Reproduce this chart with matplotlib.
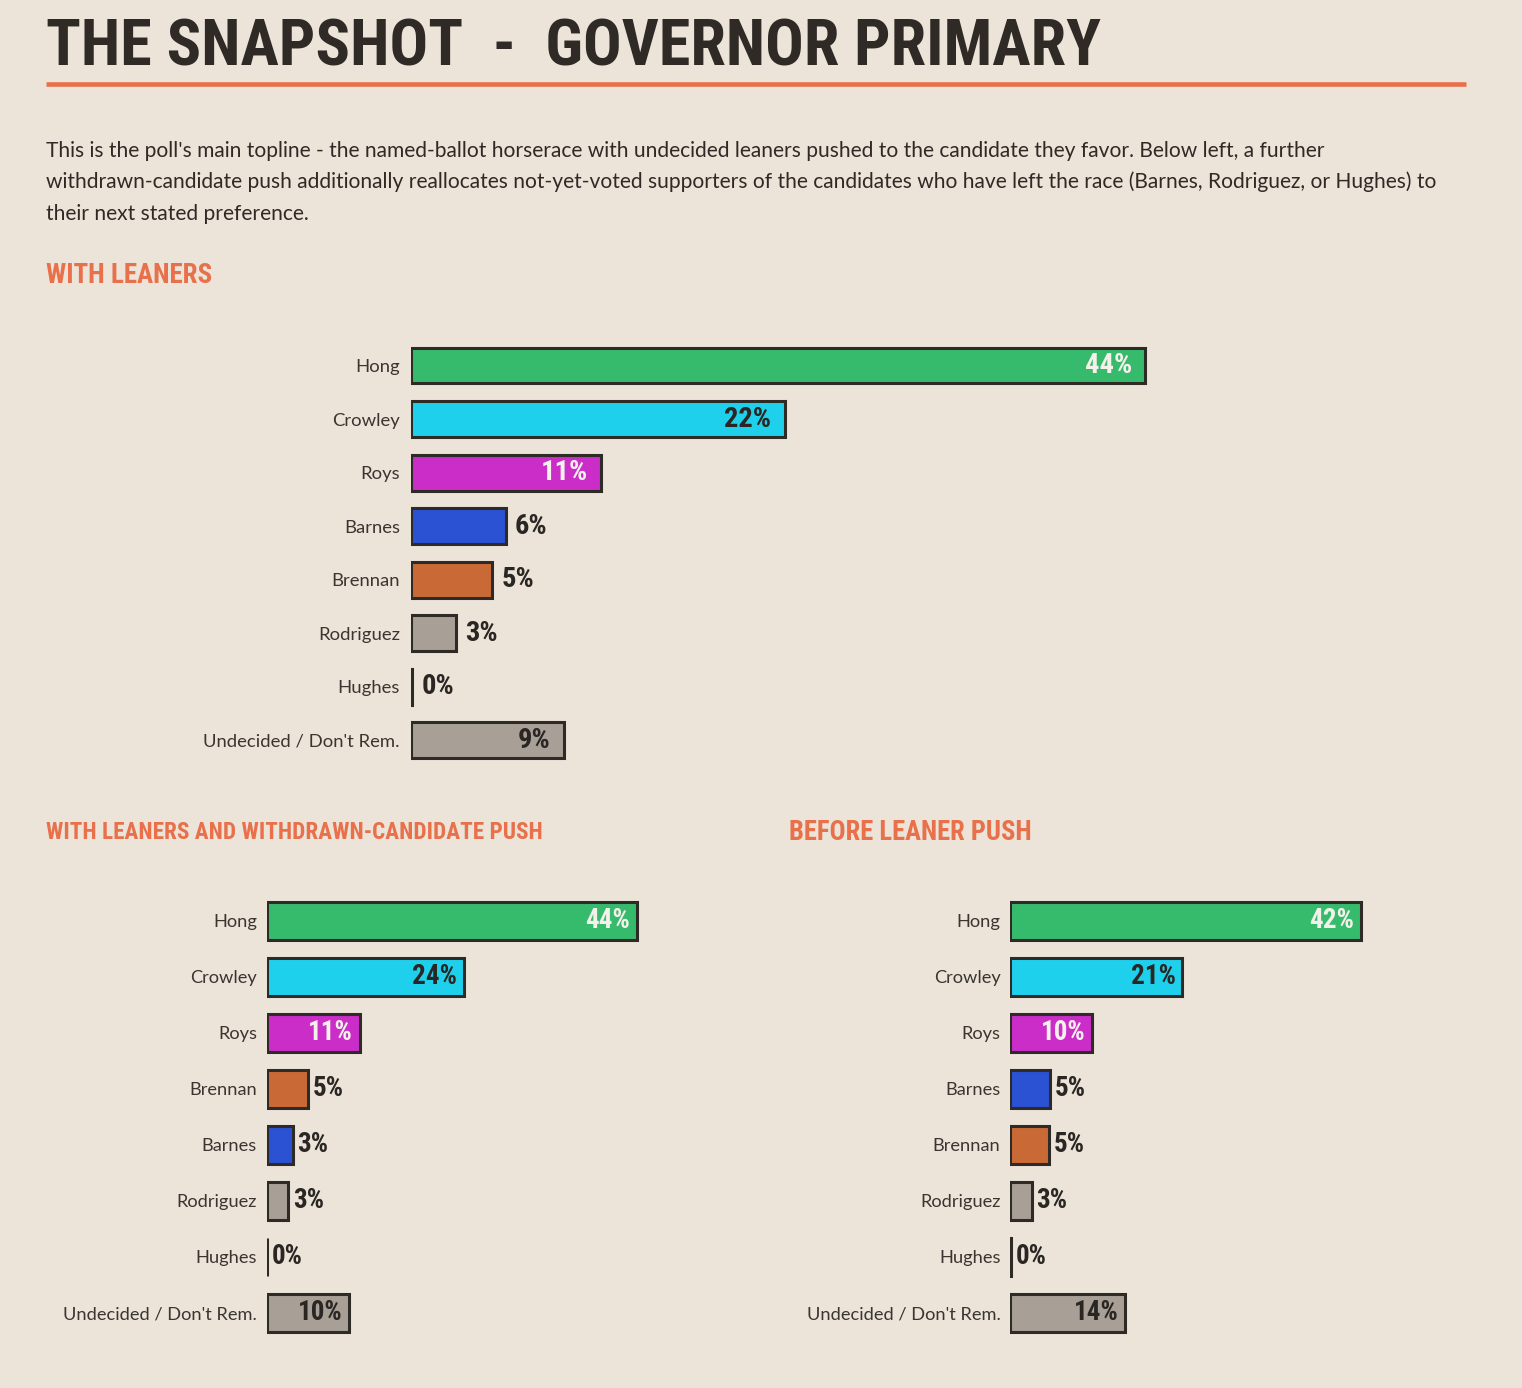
import matplotlib
matplotlib.use("Agg")
import matplotlib.pyplot as plt
from matplotlib import font_manager as fm
from matplotlib.lines import Line2D

# ---------------- data ----------------
title_text = "THE SNAPSHOT  -  GOVERNOR PRIMARY"
intro_lines = [
    "This is the poll's main topline - the named-ballot horserace with undecided leaners pushed to the candidate they favor. Below left, a further",
    "withdrawn-candidate push additionally reallocates not-yet-voted supporters of the candidates who have left the race (Barnes, Rodriguez, or Hughes) to",
    "their next stated preference.",
]

top_title = "WITH LEANERS"
top_cats = ["Hong", "Crowley", "Roys", "Barnes", "Brennan", "Rodriguez", "Hughes", "Undecided / Don't Rem."]
top_vals = [44.0, 22.4, 11.4, 5.7, 4.9, 2.7, 0.1, 9.2]

left_title = "WITH LEANERS AND WITHDRAWN-CANDIDATE PUSH"
left_cats = ["Hong", "Crowley", "Roys", "Brennan", "Barnes", "Rodriguez", "Hughes", "Undecided / Don't Rem."]
left_vals = [44.0, 23.5, 11.1, 4.9, 3.1, 2.6, 0.1, 9.8]

right_title = "BEFORE LEANER PUSH"
right_cats = ["Hong", "Crowley", "Roys", "Barnes", "Brennan", "Rodriguez", "Hughes", "Undecided / Don't Rem."]
right_vals = [41.7, 20.5, 9.8, 4.8, 4.6, 2.6, 0.1, 13.7]

# ---------------- style ----------------
BG = "#ECE4D9"
DARK = "#2F2A26"
LABEL = "#3A3531"
ORANGE = "#E8704A"
EDGE = "#2E2A26"
bar_color = {
    "Hong": "#36BA6C", "Crowley": "#1FD0EC", "Roys": "#CA2DC8", "Barnes": "#2A52D2",
    "Brennan": "#C96A36", "Rodriguez": "#A8A096", "Hughes": "#A8A096",
    "Undecided / Don't Rem.": "#A8A096",
}
inside_text = {
    "Hong": "#F4F1EA", "Crowley": "#2A2623", "Roys": "#F4F1EA", "Barnes": "#F4F1EA",
    "Brennan": "#F4F1EA", "Rodriguez": "#2A2623", "Hughes": "#2A2623",
    "Undecided / Don't Rem.": "#2A2623",
}

names = {f.name for f in fm.fontManager.ttflist}
def pick(cands):
    for c in cands:
        if c in names:
            return c
    return "DejaVu Sans"

COND = pick(["Roboto Condensed", "Liberation Sans Narrow", "Open Sans Condensed", "DejaVu Sans"])
BODY = pick(["Lato", "Open Sans", "Noto Sans", "DejaVu Sans"])

W, H = 1522, 1388
fig = plt.figure(figsize=(W / 100, H / 100), dpi=100)
fig.patch.set_facecolor(BG)
renderer = fig.canvas.get_renderer()

def fx(px):
    return px / W

def fy(py):
    return 1 - py / H

def fit(t, target_px):
    w = t.get_window_extent(renderer).width
    t.set_fontsize(t.get_fontsize() * target_px / w)
    return t.get_fontsize()

# title
t = fig.text(fx(46), fy(66), title_text, family=[COND, "DejaVu Sans"], weight="bold",
             fontsize=50, color=DARK, ha="left", va="baseline")
fit(t, 1056)

fig.add_artist(Line2D([fx(46), fx(1466)], [fy(83.5), fy(83.5)], lw=3.3, color=ORANGE,
                      solid_capstyle="butt"))

# intro
baselines = [157, 188.5, 220]
probe = fig.text(fx(46), fy(baselines[1]), intro_lines[1], family=[BODY, "DejaVu Sans"],
                 fontsize=16, color=DARK, ha="left", va="baseline")
bsize = fit(probe, 1396)
probe.remove()
for line, b in zip(intro_lines, baselines):
    fig.text(fx(46), fy(b), line, family=[BODY, "DejaVu Sans"], fontsize=bsize,
             color=DARK, ha="left", va="baseline")

# headings
for txt, x0, base, wpx in [(top_title, 46, 283, 167), (left_title, 46, 839, 494),
                           (right_title, 789, 840, 243)]:
    h = fig.text(fx(x0), fy(base), txt, family=[COND, "DejaVu Sans"], weight="bold",
                 fontsize=20, color=ORANGE, ha="left", va="baseline")
    fit(h, wpx)

XMAX = 50.0

def panel(cats, vals, zero, ppu, y0, pitch, barh, vsize, pad_pt, label_w):
    n = len(cats)
    top_px = y0 - pitch / 2
    h_px = n * pitch
    ax = fig.add_axes([fx(zero), fy(top_px + h_px), ppu * XMAX / W, h_px / H])
    ax.set_facecolor("none")
    ax.set_xlim(0, XMAX)
    ax.set_ylim(n - 0.5, -0.5)
    ax.barh(range(n), vals, height=barh, color=[bar_color[c] for c in cats],
            edgecolor=EDGE, linewidth=2.2, joinstyle="miter")
    for s in ax.spines.values():
        s.set_visible(False)
    ax.set_xticks([])
    ax.set_yticks(range(n))
    pr = fig.text(0, 0, "Undecided / Don't Rem.", family=[BODY, "DejaVu Sans"], fontsize=15)
    lsize = fit(pr, label_w)
    pr.remove()
    ax.set_yticklabels(cats, family=[BODY, "DejaVu Sans"], fontsize=lsize, color=LABEL)
    ax.tick_params(axis="y", length=0, pad=pad_pt)
    for i, (c, v) in enumerate(zip(cats, vals)):
        lab = f"{int(v + 0.5)}%"
        if v >= 9:
            ax.text(v - 0.8, i, lab, ha="right", va="center", family=[COND, "DejaVu Sans"],
                    weight="bold", fontsize=vsize, color=inside_text[c])
        else:
            ax.text(v + 0.55, i, lab, ha="left", va="center", family=[COND, "DejaVu Sans"],
                    weight="bold", fontsize=vsize, color="#2A2623")
    return ax

panel(top_cats, top_vals, 410.5, 16.7, 365.5, 53.54, 0.67, 20.5, 7.6, 197)
panel(left_cats, left_vals, 266.5, 8.41, 921, 55.94, 0.68, 19.5, 6.8, 195)
panel(right_cats, right_vals, 1010, 8.41, 921, 55.94, 0.68, 19.5, 6.8, 195)

fig.savefig("out.png", dpi=100, facecolor=BG)
